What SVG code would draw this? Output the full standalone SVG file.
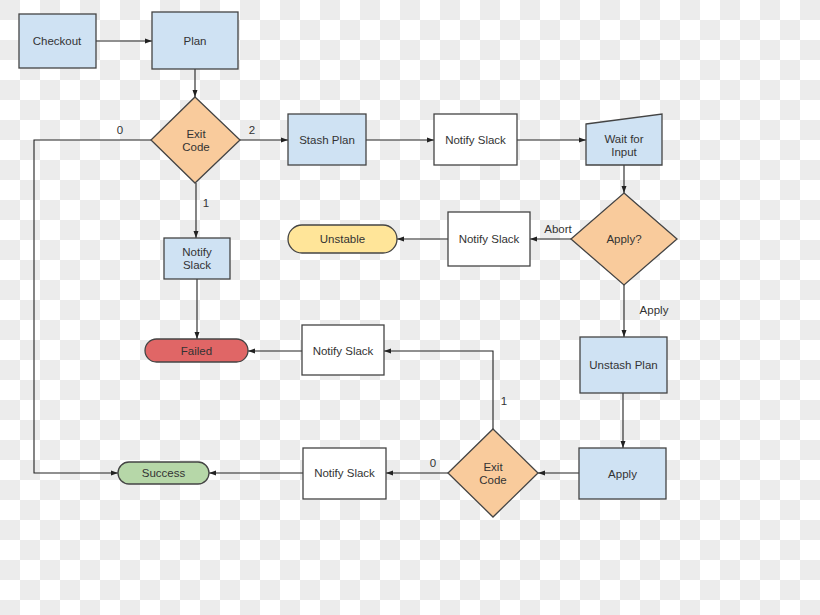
<svg xmlns="http://www.w3.org/2000/svg" width="820" height="615" viewBox="0 0 820 615">
<defs>
<pattern id="checker" x="0" y="0" width="40" height="40" patternUnits="userSpaceOnUse">
<rect width="40" height="40" fill="#ffffff"/>
<rect x="0" y="0" width="20" height="20" fill="#ececec"/>
<rect x="20" y="20" width="20" height="20" fill="#ececec"/>
</pattern>
<marker id="arr" markerWidth="7" markerHeight="6" refX="7" refY="3" orient="auto" markerUnits="userSpaceOnUse">
<path d="M0,0.5 L7,3 L0,5.5 z" fill="#222"/>
</marker>
</defs>
<style>
.n{stroke:#444;stroke-width:1.3}
.blue{fill:#cfe2f3}
.org{fill:#f9cb9c}
.wht{fill:#ffffff}
.yel{fill:#ffe599}
.red{fill:#e06666}
.grn{fill:#b6d7a8}
text{font-family:"Liberation Sans",Arial,sans-serif;font-size:11.5px;fill:#333;text-anchor:middle}
.c{fill:none;stroke:#222;stroke-width:1.1;marker-end:url(#arr)}
</style>
<rect width="820" height="615" fill="url(#checker)"/>

<g id="connectors">
<path class="c" d="M96,41 H152"/>
<path class="c" d="M195,69 V97"/>
<path class="c" d="M240,140 H288"/>
<path class="c" d="M366,140 H434"/>
<path class="c" d="M517,140 H586"/>
<path class="c" d="M624,165 V193"/>
<path class="c" d="M571,239 H530"/>
<path class="c" d="M448,239 H397"/>
<path class="c" d="M624,285 V337"/>
<path class="c" d="M623,393 V448"/>
<path class="c" d="M579,473 H538"/>
<path class="c" d="M448,473 H386"/>
<path class="c" d="M303,473 H209"/>
<path class="c" d="M493,429 V351 H384"/>
<path class="c" d="M302,351 H248"/>
<path class="c" d="M196,183 V238"/>
<path class="c" d="M197,279 V339"/>
<path class="c" d="M151,140 H34 V473 H118"/>
</g>

<g id="labels">
<text x="120" y="134">0</text>
<text x="252" y="134">2</text>
<text x="206" y="207">1</text>
<text x="558" y="233">Abort</text>
<text x="654" y="314">Apply</text>
<text x="504" y="405">1</text>
<text x="433" y="467">0</text>
</g>

<g id="checkout"><rect class="n blue" x="19" y="14" width="77" height="54"/><text x="57" y="45">Checkout</text></g>
<g id="plan"><rect class="n blue" x="152" y="12" width="86" height="57"/><text x="195" y="45">Plan</text></g>
<g id="exit1"><polygon class="n org" points="195,97 240,140 195,183 151,140"/><text x="196" y="138">Exit</text><text x="196" y="151">Code</text></g>
<g id="stash"><rect class="n blue" x="288" y="114" width="78" height="51"/><text x="327" y="144">Stash Plan</text></g>
<g id="notify1"><rect class="n wht" x="434" y="114" width="83" height="51"/><text x="475.5" y="144">Notify Slack</text></g>
<g id="wait"><polygon class="n blue" points="586,124 662,114 662,165 586,165"/><text x="624" y="143">Wait for</text><text x="624" y="156">Input</text></g>
<g id="applyq"><polygon class="n org" points="624,193 677,239 624,285 571,239"/><text x="624" y="243">Apply?</text></g>
<g id="notify2"><rect class="n wht" x="448" y="212" width="82" height="54"/><text x="489" y="243">Notify Slack</text></g>
<g id="unstable"><rect class="n yel" x="288" y="225" width="109" height="28" rx="14"/><text x="342.5" y="243">Unstable</text></g>
<g id="notify-blue"><rect class="n blue" x="164" y="238" width="66" height="41"/><text x="197" y="256">Notify</text><text x="197" y="269">Slack</text></g>
<g id="failed"><rect class="n red" x="145" y="339" width="103" height="23" rx="11.5"/><text x="196.5" y="355">Failed</text></g>
<g id="notify3"><rect class="n wht" x="302" y="325" width="82" height="50"/><text x="343" y="355">Notify Slack</text></g>
<g id="unstash"><rect class="n blue" x="580" y="337" width="87" height="56"/><text x="623.5" y="369">Unstash Plan</text></g>
<g id="apply"><rect class="n blue" x="579" y="448" width="87" height="51"/><text x="622.5" y="478">Apply</text></g>
<g id="exit2"><polygon class="n org" points="493,429 538,473 493,517 448,473"/><text x="493" y="471">Exit</text><text x="493" y="484">Code</text></g>
<g id="notify4"><rect class="n wht" x="303" y="448" width="83" height="51"/><text x="344.5" y="477">Notify Slack</text></g>
<g id="success"><rect class="n grn" x="118" y="462" width="91" height="22" rx="11"/><text x="163.5" y="477">Success</text></g>
</svg>
